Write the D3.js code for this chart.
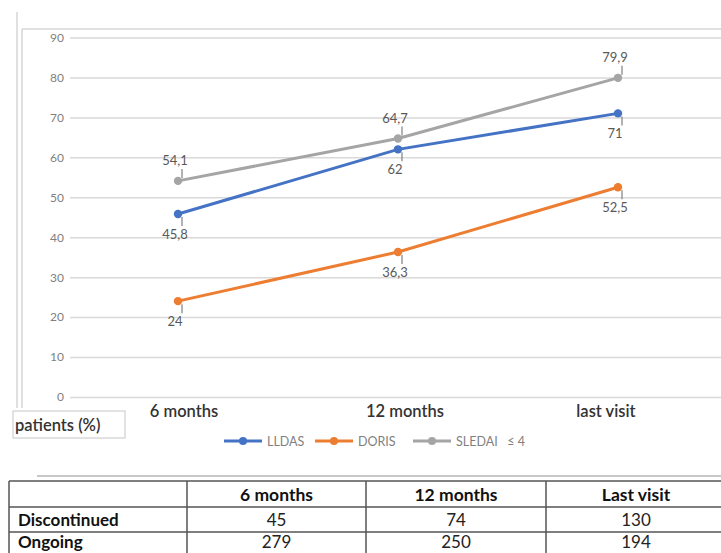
<!DOCTYPE html>
<html><head><meta charset="utf-8">
<script src="https://cdn.jsdelivr.net/npm/d3@7"></script>
<style>body{margin:0;background:#fff}svg{display:block}</style>
</head><body>
<svg id="c" width="721" height="553"></svg>
<script>
const categories = ["6 months", "12 months", "last visit"];
const seriesNames = ["LLDAS", "DORIS", "SLEDAI\u00a0\u00a0\u00a0\u2264\u00a04"];
const lldas = [45.8, 62, 71];
const doris = [24, 36.3, 52.5];
const sledai = [54.1, 64.7, 79.9];
const lldasLabels = ["45,8", "62", "71"];
const dorisLabels = ["24", "36,3", "52,5"];
const sledaiLabels = ["54,1", "64,7", "79,9"];
const yTicks = [0, 10, 20, 30, 40, 50, 60, 70, 80, 90];
const tableHeader = ["", "6 months", "12 months", "Last visit"];
const rowNames = ["Discontinued", "Ongoing"];
const discontinued = [45, 74, 130];
const ongoing = [279, 250, 194];
const boxLabel = "patients (%)";

const svg = d3.select("#c");
const font = "Lato, 'Open Sans', sans-serif";
const W = 721;

// frame lines
svg.append("line").attr("x1",17).attr("x2",17).attr("y1",12).attr("y2",408).attr("stroke","#d6d6d6").attr("stroke-width",1.5);
svg.append("line").attr("x1",22).attr("x2",22).attr("y1",29).attr("y2",408).attr("stroke","#d6d6d6").attr("stroke-width",1.5);
svg.append("line").attr("x1",22).attr("x2",W).attr("y1",29).attr("y2",29).attr("stroke","#d6d6d6").attr("stroke-width",1.5);

const y = d3.scaleLinear().domain([0, 90]).range([397, 37.5]);
const x = d3.scalePoint().domain(categories).range([178, 618]);

const yAxis = svg.append("g").attr("transform","translate(70,0)")
  .call(d3.axisLeft(y).tickValues(yTicks).tickSize(-(W-70)).tickPadding(6));
yAxis.select(".domain").remove();
yAxis.selectAll(".tick line").attr("stroke","#d9d9d9").attr("stroke-width",1.5);
yAxis.selectAll(".tick text").attr("fill","#7f7f7f").style("font-family",font).style("font-size","12px");

// category labels
const catOffset = [6, 7, -12];
svg.append("g").selectAll("text").data(categories).join("text")
  .attr("x",(d,i)=>x(d)+catOffset[i]).attr("y",417).attr("text-anchor","middle")
  .attr("fill","#333").style("font-family",font).style("font-size","16.5px").style("font-weight","600")
  .text(d=>d);

const series = [
  {name:seriesNames[0], vals:lldas, labels:lldasLabels, color:"#4472C4", pos:1},
  {name:seriesNames[1], vals:doris, labels:dorisLabels, color:"#ED7D31", pos:1},
  {name:seriesNames[2], vals:sledai, labels:sledaiLabels, color:"#A5A5A5", pos:-1}
];
const line = d3.line().x((d,i)=>x(categories[i])).y(d=>y(d));
[series[2], series[1], series[0]].forEach(s=>{
  const g = svg.append("g");
  g.append("path").datum(s.vals).attr("d",line).attr("fill","none").attr("stroke",s.color).attr("stroke-width",3).attr("stroke-linecap","round");
  g.selectAll("circle").data(s.vals).join("circle")
    .attr("cx",(d,i)=>x(categories[i])).attr("cy",d=>y(d)).attr("r",4.2).attr("fill",s.color);
  g.selectAll("line.ld").data(s.vals).join("line").attr("class","ld")
    .attr("x1",(d,i)=>x(categories[i])+4).attr("x2",(d,i)=>x(categories[i])+4)
    .attr("y1",d=>y(d)+s.pos*3).attr("y2",d=>y(d)+s.pos*12)
    .attr("stroke","#7f7f7f").attr("stroke-width",1.2);
  g.selectAll("text").data(s.vals).join("text")
    .attr("x",(d,i)=>x(categories[i])-3).attr("y",d=>y(d)+s.pos*20+4.5)
    .attr("text-anchor","middle").attr("fill","#595959")
    .style("font-family",font).style("font-size","13px")
    .text((d,i)=>s.labels[i]);
});

// box label
svg.append("rect").attr("x",13).attr("y",411).attr("width",112).attr("height",27)
  .attr("fill","#fff").attr("stroke","#cfcfcf").attr("stroke-width",1.2);
svg.append("text").attr("x",15).attr("y",431).attr("fill","#333")
  .style("font-family",font).style("font-size","16.5px").style("font-weight","600").text(boxLabel);

// legend
const legX = [224, 315, 413];
const lg = svg.append("g");
series.forEach((s,i)=>{
  const gx = legX[i];
  lg.append("line").attr("x1",gx).attr("x2",gx+38).attr("y1",441).attr("y2",441).attr("stroke",s.color).attr("stroke-width",3);
  lg.append("circle").attr("cx",gx+19).attr("cy",441).attr("r",4).attr("fill",s.color);
  lg.append("text").attr("x",gx+43).attr("y",445.5).attr("fill","#7f7f7f")
    .style("font-family",font).style("font-size","12.5px").text(s.name);
});

// separator line
svg.append("line").attr("x1",37).attr("x2",W).attr("y1",476).attr("y2",476).attr("stroke","#c8c8c8").attr("stroke-width",2);

// table
const colX = [9, 187, 366, 546, 726];
const rowY = [481, 507, 532, 558];
const tg = svg.append("g");
rowY.forEach(ry=>tg.append("line").attr("x1",9).attr("x2",W).attr("y1",ry).attr("y2",ry).attr("stroke","#555").attr("stroke-width",1.5));
colX.forEach(cx=>tg.append("line").attr("x1",cx).attr("x2",cx).attr("y1",481).attr("y2",558).attr("stroke","#555").attr("stroke-width",1.5));
tableHeader.forEach((h,i)=>{
  if(!h) return;
  tg.append("text").attr("x",(colX[i]+colX[i+1])/2).attr("y",501).attr("text-anchor","middle")
    .attr("fill","#111").style("font-family",font).style("font-size","17.5px").style("font-weight","700").text(h);
});
const rows = [discontinued, ongoing];
rows.forEach((r,ri)=>{
  const by = [526, 548][ri];
  tg.append("text").attr("x",18).attr("y",by).attr("fill","#111")
    .style("font-family",font).style("font-size","17px").style("font-weight","700").text(rowNames[ri]);
  r.forEach((v,ci)=>{
    tg.append("text").attr("x",(colX[ci+1]+colX[ci+2])/2).attr("y",by).attr("text-anchor","middle")
      .attr("fill","#222").style("font-family",font).style("font-size","17px").text(v);
  });
});
</script>
</body></html>
